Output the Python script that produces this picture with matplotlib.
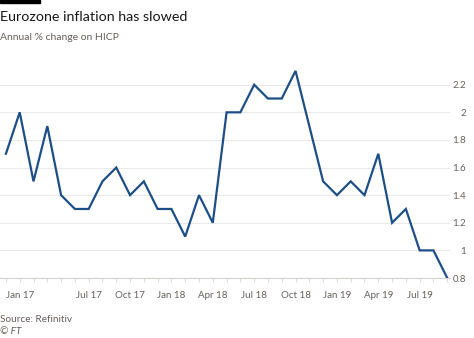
import matplotlib
matplotlib.use("Agg")
import matplotlib.pyplot as plt
from matplotlib.patches import Rectangle
import numpy as np

plt.rcParams['font.family'] = ['Lato', 'DejaVu Sans']

# monthly HICP, Jan 2017 .. Sep 2019
inflation = [1.7, 2.0, 1.5, 1.9, 1.4, 1.3, 1.3, 1.5, 1.6, 1.4, 1.5, 1.3,
             1.3, 1.1, 1.4, 1.2, 2.0, 2.0, 2.2, 2.1, 2.1, 2.3, 1.9, 1.5,
             1.4, 1.5, 1.4, 1.7, 1.2, 1.3, 1.0, 1.0, 0.8]
tick_months = [0, 6, 9, 12, 15, 18, 21, 24, 27, 30]
tick_labels = ['Jan 17', 'Jul 17', 'Oct 17', 'Jan 18', 'Apr 18',
               'Jul 18', 'Oct 18', 'Jan 19', 'Apr 19', 'Jul 19']
y_ticks = [0.8, 1.0, 1.2, 1.4, 1.6, 1.8, 2.0, 2.2]
y_labels = ['0.8', '1', '1.2', '1.4', '1.6', '1.8', '2', '2.2']

W, H = 474, 338
fig = plt.figure(figsize=(W / 100, H / 100), dpi=100)
fig.patch.set_facecolor('white')

ax = fig.add_axes([0, (H - 278) / H, 450 / W, (278 - 64) / H])
x = np.arange(len(inflation))
ax.plot(x, inflation, color='#1d4f86', lw=1.6, solid_joinstyle='miter', zorder=3)

ax.set_xlim(-0.43, 32.2)
ax.set_ylim(0.8, 2.35)
for s in ['top', 'left', 'right']:
    ax.spines[s].set_visible(False)
ax.spines['bottom'].set_color('#d8d4d0')
ax.spines['bottom'].set_linewidth(0.8)
ax.set_facecolor('white')

ax.yaxis.tick_right()
ax.set_yticks(y_ticks)
ax.set_yticklabels(y_labels)
ax.tick_params(axis='y', length=0, pad=11.5, labelsize=7, labelcolor='#66605c')
for lab in ax.get_yticklabels():
    lab.set_horizontalalignment('right')
ax.grid(axis='y', color='#ebe8e5', lw=0.8)
ax.set_axisbelow(True)

ax.set_xticks(tick_months)
ax.set_xticklabels(tick_labels)
ax.set_xticks(x, minor=True)
ax.tick_params(axis='x', which='both', length=3, color='#e0dcd8', width=0.8,
               labelsize=7, labelcolor='#66605c', pad=6)
ax.get_xticklabels()[0].set_horizontalalignment('left')

fig.patches.append(Rectangle((0, 1 - 3 / H), 40 / W, 3 / H, transform=fig.transFigure,
                             color='black'))
fig.text(0, 1 - 17 / H, 'Eurozone inflation has slowed', fontsize=10.3,
         color='#1a1817', va='center')
fig.text(0, 1 - 38 / H, 'Annual % change on HICP', fontsize=7.5,
         color='#66605c', va='center')
fig.text(0, 1 - 320 / H, 'Source: Refinitiv', fontsize=7.2, color='#66605c', va='center')
fig.text(0, 1 - 332 / H, '\u00a9 FT', fontsize=7.2, color='#66605c', va='center',
         style='italic')

fig.savefig('out.png', dpi=100, facecolor='white')
